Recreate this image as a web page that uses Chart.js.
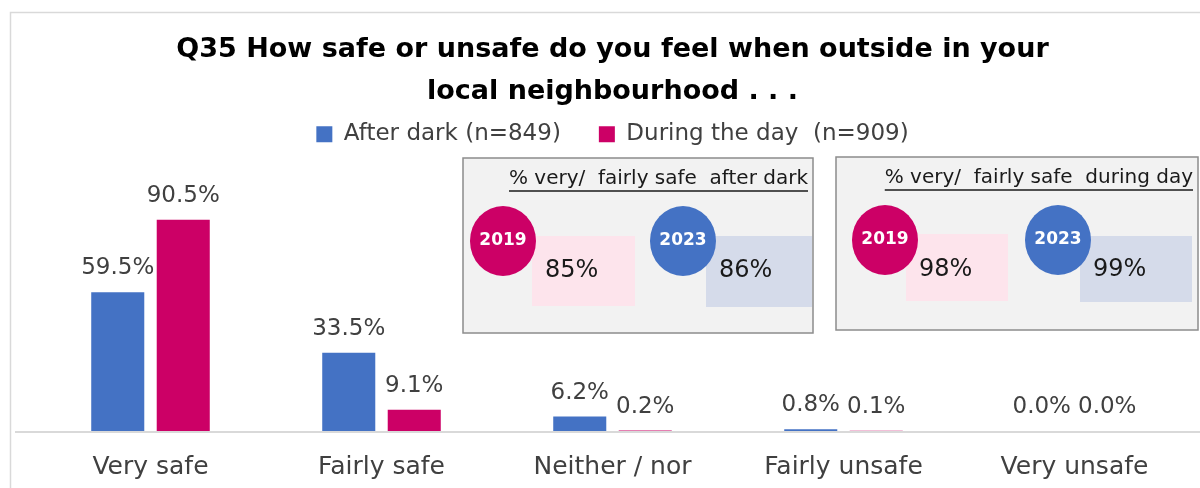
<!DOCTYPE html>
<html>
<head>
<meta charset="utf-8">
<script src="https://cdn.jsdelivr.net/npm/chart.js@4.4.1/dist/chart.umd.min.js"></script>
<style>
  html, body { margin: 0; padding: 0; background: #fff; }
  #wrap { width: 1200px; height: 488px; }
</style>
</head>
<body>
<div id="wrap"><canvas id="c" width="1200" height="488"></canvas></div>
<script>
/* ---- data ---- */
var categories = ["Very safe", "Fairly safe", "Neither / nor", "Fairly unsafe", "Very unsafe"];
var afterDark = [59.5, 33.5, 6.2, 0.8, 0.0];
var duringDay = [90.5, 9.1, 0.2, 0.1, 0.0];
var seriesNames = ["After dark (n=849)", "During the day  (n=909)"];
var titleLines = ["Q35 How safe or unsafe do you feel when outside in your", "local neighbourhood . . ."];
var insetYears = ["2019", "2023"];
var insetAfterDark = [85, 86];
var insetDuringDay = [98, 99];
var insetTitles = ["% very/  fairly safe  after dark", "% very/  fairly safe  during day"];

var BLUE = "#4472c4", MAGENTA = "#cc0066", TXT = "#404040";
var FONT = '"DejaVu Sans", sans-serif';

/* white page + light frame + baseline */
var framePlugin = {
  id: "frame",
  beforeDraw: function (chart) {
    var ctx = chart.ctx;
    ctx.save();
    ctx.fillStyle = "#fff";
    ctx.fillRect(0, 0, chart.width, chart.height);
    ctx.strokeStyle = "#d9d9d9";
    ctx.lineWidth = 1.5;
    ctx.strokeRect(10.5, 12.5, 1300, 600);
    ctx.restore();
  },
  afterDatasetsDraw: function (chart) {
    var ctx = chart.ctx, y = chart.chartArea.bottom;
    ctx.save();
    ctx.strokeStyle = "#d9d9d9";
    ctx.lineWidth = 2;
    ctx.beginPath();
    ctx.moveTo(15, y + 1);
    ctx.lineTo(1200, y + 1);
    ctx.stroke();
    ctx.restore();
  }
};

/* value labels above each bar */
var valueLabels = {
  id: "valueLabels",
  afterDatasetsDraw: function (chart) {
    var ctx = chart.ctx;
    ctx.save();
    ctx.font = "23px " + FONT;
    ctx.fillStyle = TXT;
    ctx.textAlign = "center";
    ctx.textBaseline = "middle";
    chart.data.datasets.forEach(function (ds, i) {
      chart.getDatasetMeta(i).data.forEach(function (bar, j) {
        ctx.fillText(ds.data[j].toFixed(1) + "%", bar.x, bar.y - 24);
      });
    });
    ctx.restore();
  }
};

/* the two grey comparison boxes */
function drawInset(ctx, box, title, values) {
  ctx.fillStyle = "#f2f2f2";
  ctx.fillRect(box.x, box.y, box.w, box.h);
  ctx.strokeStyle = "#8c8c8c";
  ctx.lineWidth = 1.5;
  ctx.strokeRect(box.x, box.y, box.w, box.h);

  ctx.font = "20px " + FONT;
  ctx.fillStyle = "#1a1a1a";
  ctx.textAlign = "right";
  ctx.textBaseline = "middle";
  var tx = box.x + box.w - 5, ty = box.y + 21;
  ctx.fillText(title, tx, ty);
  var tw = ctx.measureText(title).width;
  ctx.strokeStyle = "#1a1a1a";
  ctx.lineWidth = 1.3;
  ctx.beginPath();
  ctx.moveTo(tx - tw, ty + 12);
  ctx.lineTo(tx, ty + 12);
  ctx.stroke();

  var cols = [MAGENTA, BLUE], fills = ["#fde4ec", "#d5dbea"];
  box.items.forEach(function (it, k) {
    ctx.fillStyle = fills[k];
    ctx.fillRect(it.rx, it.ry, it.rw, it.rh);
    ctx.fillStyle = cols[k];
    ctx.beginPath();
    ctx.ellipse(it.cx, it.cy, 33, 35, 0, 0, Math.PI * 2);
    ctx.fill();
    ctx.fillStyle = "#fff";
    ctx.font = "bold 17px " + FONT;
    ctx.textAlign = "center";
    ctx.fillText(insetYears[k], it.cx, it.cy);
    ctx.fillStyle = "#1a1a1a";
    ctx.font = "24px " + FONT;
    ctx.textAlign = "left";
    ctx.fillText(values[k] + "%", it.rx + 13, it.cy + 30);
  });
}

var insetPlugin = {
  id: "insets",
  afterDraw: function (chart) {
    var ctx = chart.ctx;
    ctx.save();
    drawInset(ctx, { x: 463, y: 158, w: 350, h: 175, items: [
      { cx: 503, cy: 241, rx: 532, ry: 236, rw: 103, rh: 70 },
      { cx: 683, cy: 241, rx: 706, ry: 236, rw: 106, rh: 71 }
    ] }, insetTitles[0], insetAfterDark);
    drawInset(ctx, { x: 836, y: 157, w: 362, h: 173, items: [
      { cx: 885, cy: 240, rx: 906, ry: 234, rw: 102, rh: 67 },
      { cx: 1058, cy: 240, rx: 1080, ry: 236, rw: 112, rh: 66 }
    ] }, insetTitles[1], insetDuringDay);
    ctx.restore();
  }
};

new Chart(document.getElementById("c"), {
  type: "bar",
  data: {
    labels: categories,
    datasets: [
      { label: seriesNames[0], data: afterDark, backgroundColor: BLUE },
      { label: seriesNames[1], data: duringDay, backgroundColor: MAGENTA }
    ]
  },
  options: {
    responsive: false,
    animation: false,
    devicePixelRatio: 1,
    layout: { padding: { left: 35, right: 10, top: 29, bottom: 0 } },
    categoryPercentage: 0.567,
    barPercentage: 0.81,
    plugins: {
      title: {
        display: true,
        text: titleLines,
        color: "#000",
        font: { family: FONT, size: 27, weight: "bold", lineHeight: 1.55 },
        padding: { top: 0, bottom: -28 }
      },
      legend: {
        display: true,
        labels: {
          color: TXT,
          font: { family: FONT, size: 23 },
          boxWidth: 16,
          boxHeight: 16,
          padding: 38
        }
      },
      tooltip: { enabled: false }
    },
    scales: {
      x: {
        grid: { display: false, drawTicks: false },
        border: { display: false },
        ticks: { color: TXT, font: { family: FONT, size: 25 }, padding: 21, maxRotation: 0 },
        afterFit: function (scale) { scale.height = 57; }
      },
      y: { display: false, min: 0, max: 118 }
    }
  },
  plugins: [framePlugin, valueLabels, insetPlugin]
});
</script>
</body>
</html>
